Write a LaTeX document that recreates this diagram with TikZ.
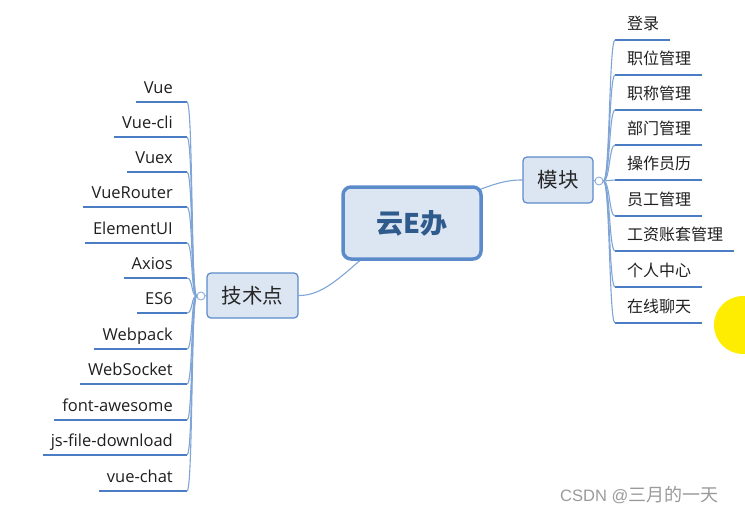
\documentclass[tikz,border=0pt]{standalone}
\usepackage{fontspec}
\setmainfont{Open Sans}
\newfontfamily\cjk{Noto Sans CJK SC}
\newfontfamily\wmlat{Liberation Sans}
\usetikzlibrary{backgrounds,calc}
\definecolor{boxfill}{HTML}{DCE6F2}
\definecolor{boxline}{HTML}{5B8BCB}
\definecolor{ulcol}{HTML}{4A7DC4}
\definecolor{conncol}{HTML}{7FA4D6}
\definecolor{titlecol}{HTML}{2F5B8C}
\definecolor{wmcol}{HTML}{9A9A9A}
\begin{document}
\begin{tikzpicture}[x=1pt,y=-1pt,
  rootbox/.style={draw=boxline,fill=boxfill,line width=3.5pt,rounded corners=8pt,
     minimum width=138pt,minimum height=72pt,inner sep=0pt,text=titlecol,
     font=\cjk\fontsize{27}{30}\selectfont\bfseries},
  subbox/.style={draw=boxline,fill=boxfill,line width=1.2pt,rounded corners=4pt,
     inner sep=0pt,text=black!85,font=\cjk\fontsize{20.5}{23}\selectfont},
  leaf/.style={inner sep=0pt,text=black!88,font=\fontsize{16.5}{19}\selectfont},
  cleaf/.style={inner sep=0pt,text=black!88,font=\cjk\fontsize{16}{19}\selectfont},
  uline/.style={draw=ulcol,line width=2.6pt},
  conn/.style={draw=conncol,line width=1.1pt},
  knob/.style={circle,draw=conncol,fill=white,line width=0.8pt,minimum size=8pt,inner sep=0pt}]
\useasboundingbox (0,0) rectangle (745,514);

% cursor highlight
\begin{scope}
\clip (0,0) rectangle (745,514);
\fill[yellow!95!orange] (743,325) circle (29);
\end{scope}

% main boxes
\node[rootbox] (root) at (412,223) {云E办};
\node[subbox,minimum width=70pt,minimum height=46pt] (mod) at (558,180) {模块};
\node[subbox,minimum width=91pt,minimum height=45pt] (tech) at (252.5,295.5) {技术点};
\node[knob] (kr) at (599,181) {};
\node[knob] (kl) at (201,296) {};

\begin{scope}[on background layer]
\draw[conn] (root.center) .. controls (485,183) and (505,180) .. (mod.west);
\draw[conn] (root.center) .. controls (360,250) and (335,296) .. (tech.east);
\end{scope}
\draw[conn] (mod.east) -- (kr.west);
\draw[conn] (tech.west) -- (kl.east);

% left leaves
\foreach \i/\t/\y in {1/Vue/102,2/Vue-cli/137,3/Vuex/172,4/VueRouter/207,
  5/ElementUI/243,6/Axios/278,7/ES6/313,8/Webpack/349,9/WebSocket/384,
  10/font-awesome/420,11/js-file-download/455,12/vue-chat/491}{
  \node[leaf,anchor=base east] (L\i) at (173,\y-9) {\t};
  \coordinate (LE\i) at (187,\y);
  \draw[uline] ([xshift=-8pt]L\i.west |- LE\i) -- (LE\i);
  \draw[conn] (kl.west) .. controls (191,296) and (193,\y) .. (LE\i);
}

% right leaves
\foreach \i/\t/\y in {1/登录/40,2/职位管理/75,3/职称管理/110,4/部门管理/145,
  5/操作员历/180,6/员工管理/216,7/工资账套管理/251,8/个人中心/287,9/在线聊天/323}{
  \node[cleaf,anchor=base west] (R\i) at (627,\y-11) {\t};
  \coordinate (RS\i) at (615,\y);
  \draw[uline] (RS\i) -- ([xshift=11pt]R\i.east |- RS\i);
  \draw[conn] (kr.east) .. controls (610,181) and (609,\y) .. (RS\i);
}

% watermark
\node[anchor=west,inner sep=0pt,text=wmcol,font=\fontsize{16.5}{19}\selectfont] (wm) at (560,495) {\wmlat CSDN @\cjk\fontsize{18}{20}\selectfont 三月的一天};
\end{tikzpicture}
\end{document}
